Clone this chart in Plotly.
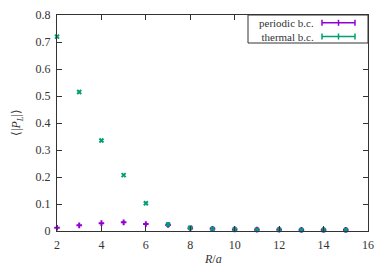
import plotly.graph_objects as go

R = [2, 3, 4, 5, 6, 7, 8, 9, 10, 11, 12, 13, 14, 15]
periodic = [0.012, 0.021, 0.029, 0.032, 0.026, 0.022, 0.010, 0.008, 0.006, 0.005, 0.005, 0.004, 0.004, 0.004]
thermal = [0.72, 0.515, 0.335, 0.207, 0.103, 0.024, 0.012, 0.008, 0.006, 0.005, 0.005, 0.004, 0.004, 0.004]
x_ticks = [2, 4, 6, 8, 10, 12, 14, 16]
y_ticks = [0, 0.1, 0.2, 0.3, 0.4, 0.5, 0.6, 0.7, 0.8]
legend_labels = ["periodic b.c.", "thermal b.c."]
x_title = "<i>R</i>/<i>a</i>"
y_title = "⟨|<i>P</i><sub><i>L</i></sub>|⟩"

PURPLE = "#9400D3"
GREEN = "#009E73"
FONT = "Liberation Serif"

fig = go.Figure()
fig.add_trace(go.Scatter(x=R, y=periodic, mode="markers", name=legend_labels[0],
                         marker=dict(symbol="cross-thin", size=4, line=dict(color=PURPLE, width=2), color=PURPLE),
                         cliponaxis=False))
fig.add_trace(go.Scatter(x=R, y=thermal, mode="markers", name=legend_labels[1],
                         marker=dict(symbol="x-thin", size=4, line=dict(color=GREEN, width=2), color=GREEN),
                         cliponaxis=False))

axis_common = dict(showline=True, linecolor="#333", linewidth=1, mirror="allticks",
                   ticks="inside", ticklen=5, tickcolor="#333", showgrid=False, zeroline=False,
                   automargin=False, ticklabelstandoff=3,
                   tickfont=dict(family=FONT, size=12, color="#333"))
# page body has an 8px default margin: the figure is shifted by 8px, so size/margins compensate
fig.update_layout(
    width=382, height=262,
    margin=dict(l=49, r=22, t=7, b=39),
    paper_bgcolor="white", plot_bgcolor="white",
    showlegend=False,
    font=dict(family=FONT, size=12, color="#333"),
    xaxis=dict(range=[2, 16], tickvals=x_ticks, **axis_common),
    yaxis=dict(range=[0, 0.8], tickvals=y_ticks, ticktext=[("0" if v == 0 else f"{v:.1f}") for v in y_ticks],
               **axis_common),
)

W, H = 311, 216
# axis titles as annotations for precise placement
fig.add_annotation(xref="paper", yref="paper", x=0.5, y=-(259 - 231) / H, text=x_title,
                   showarrow=False, xanchor="center", yanchor="middle",
                   font=dict(family=FONT, size=12, color="#333"))
fig.add_annotation(xref="paper", yref="paper", x=-(57 - 17) / W, y=0.5, text=y_title, textangle=-90,
                   showarrow=False, xanchor="center", yanchor="middle",
                   font=dict(family=FONT, size=12, color="#333"))

# legend drawn manually (gnuplot style: text right-aligned, sample on the right)
box_x0 = (248 - 57) / W
box_y0 = 1 - (43 - 15) / H
fig.add_shape(type="rect", xref="paper", yref="paper", x0=box_x0, x1=1.0, y0=box_y0, y1=1.0,
              line=dict(color="#333", width=1), fillcolor="white", layer="above")
fig.add_annotation(xref="paper", yref="paper", x=(315 - 57) / W, y=1 - (29.5 - 15) / H,
                   text="<br>".join(legend_labels), align="right",
                   showarrow=False, xanchor="right", yanchor="middle", borderpad=0,
                   font=dict(family=FONT, size=11, color="#333"))
for col, ypx in [(PURPLE, 22.8), (GREEN, 36.5)]:
    yp = 1 - (ypx - 15) / H
    xa, xb = (322 - 57) / W, (355 - 57) / W
    fig.add_shape(type="line", xref="paper", yref="paper", x0=xa, x1=xb, y0=yp, y1=yp,
                  line=dict(color=col, width=1.5))
    for xx in (xa, xb, (xa + xb) / 2):
        fig.add_shape(type="line", xref="paper", yref="paper", x0=xx, x1=xx,
                      y0=yp - 3 / H, y1=yp + 3 / H, line=dict(color=col, width=1.5))

fig.write_html("out.html")
